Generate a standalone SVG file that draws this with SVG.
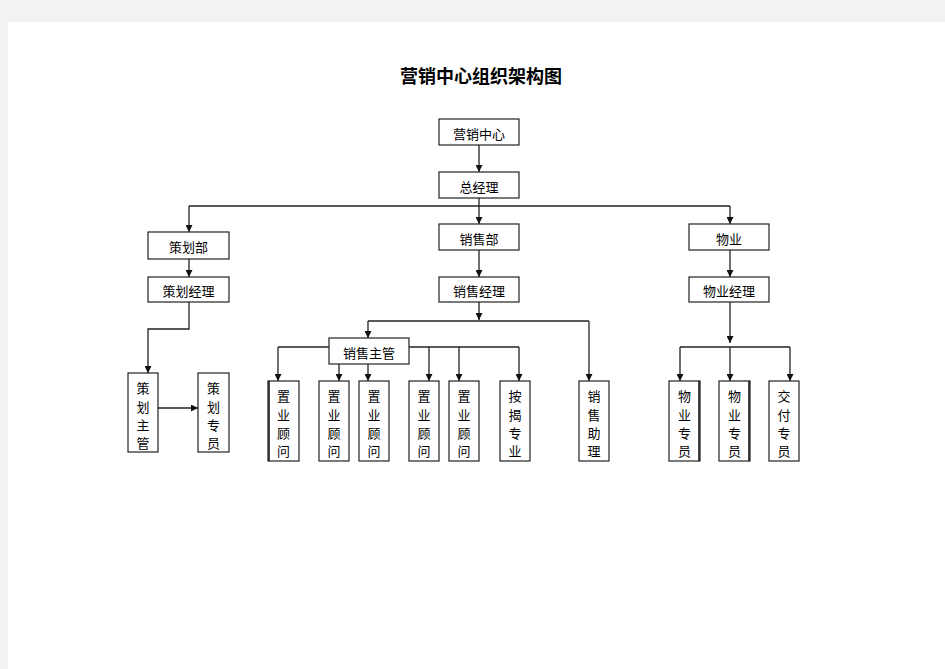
<svg xmlns="http://www.w3.org/2000/svg" width="945" height="669" viewBox="0 0 945 669">
<defs>
<style>
.bx{fill:#fff;stroke:#222;stroke-width:1.2}
.t{font-family:"Noto Sans CJK SC","Noto Sans",sans-serif;font-size:13px;fill:#000;text-anchor:middle}
.ln{fill:none;stroke:#222;stroke-width:1.3}
.ttl{font-family:"Noto Sans CJK SC",sans-serif;font-size:18px;font-weight:bold;fill:#000;text-anchor:middle}
</style>
<marker id="ar" viewBox="0 0 8 8" refX="8" refY="4" markerWidth="7" markerHeight="7" markerUnits="userSpaceOnUse" orient="auto">
<path d="M0,0 L8,4 L0,8 Z" fill="#111"/>
</marker>
</defs>
<rect x="0" y="0" width="945" height="669" fill="#f2f2f2"/>
<rect x="8" y="22" width="937" height="647" fill="#fff"/>
<text class="ttl" x="481" y="83">营销中心组织架构图</text>

<g id="connectors">
<path class="ln" d="M479,145 V172" marker-end="url(#ar)"/>
<path class="ln" d="M479,198 V224" marker-end="url(#ar)"/>
<path class="ln" d="M189,206 H730"/>
<path class="ln" d="M189,206 V232" marker-end="url(#ar)"/>
<path class="ln" d="M730,206 V224" marker-end="url(#ar)"/>
<path class="ln" d="M189,259 V277" marker-end="url(#ar)"/>
<path class="ln" d="M479,250 V277" marker-end="url(#ar)"/>
<path class="ln" d="M730,250 V277" marker-end="url(#ar)"/>
<path class="ln" d="M189,302 V329 H148 V373" marker-end="url(#ar)"/>
<path class="ln" d="M158,408 H198" marker-end="url(#ar)"/>
<path class="ln" d="M479,302 V320" marker-end="url(#ar)"/>
<path class="ln" d="M368,321 H589"/>
<path class="ln" d="M368,321 V338" marker-end="url(#ar)"/>
<path class="ln" d="M589,321 V381" marker-end="url(#ar)"/>
<path class="ln" d="M278,347 H519"/>
<path class="ln" d="M278,347 V381" marker-end="url(#ar)"/>
<path class="ln" d="M339,364 V381" marker-end="url(#ar)"/>
<path class="ln" d="M368,364 V381" marker-end="url(#ar)"/>
<path class="ln" d="M429,347 V381" marker-end="url(#ar)"/>
<path class="ln" d="M459,347 V381" marker-end="url(#ar)"/>
<path class="ln" d="M519,347 V381" marker-end="url(#ar)"/>
<path class="ln" d="M730,302 V343" marker-end="url(#ar)"/>
<path class="ln" d="M680,347 H790"/>
<path class="ln" d="M680,347 V381" marker-end="url(#ar)"/>
<path class="ln" d="M730,347 V381" marker-end="url(#ar)"/>
<path class="ln" d="M790,347 V381" marker-end="url(#ar)"/>
</g>

<g id="n-center"><rect class="bx" x="439" y="119" width="80" height="26"/><text class="t" x="479" y="139">营销中心</text></g>
<g id="n-gm"><rect class="bx" x="439" y="172" width="80" height="26"/><text class="t" x="479" y="192">总经理</text></g>
<g id="n-plan"><rect class="bx" x="148" y="232" width="81" height="27"/><text class="t" x="188.5" y="252">策划部</text></g>
<g id="n-sales"><rect class="bx" x="439" y="224" width="80" height="26"/><text class="t" x="479" y="244">销售部</text></g>
<g id="n-prop"><rect class="bx" x="689" y="224" width="80" height="26"/><text class="t" x="729" y="244">物业</text></g>
<g id="n-planmgr"><rect class="bx" x="148" y="277" width="81" height="25"/><text class="t" x="188.5" y="296">策划经理</text></g>
<g id="n-salesmgr"><rect class="bx" x="439" y="277" width="80" height="25"/><text class="t" x="479" y="296">销售经理</text></g>
<g id="n-propmgr"><rect class="bx" x="689" y="277" width="80" height="25"/><text class="t" x="729" y="296">物业经理</text></g>
<g id="n-salessup"><rect class="bx" x="329" y="338" width="80" height="26"/><text class="t" x="369" y="358">销售主管</text></g>

<g id="n-plansup"><rect class="bx" x="128" y="373" width="30" height="79"/>
<text class="t"><tspan x="143" y="393">策</tspan><tspan x="143" y="412">划</tspan><tspan x="143" y="430">主</tspan><tspan x="143" y="448">管</tspan></text></g>
<g id="n-planstaff"><rect class="bx" x="198" y="373" width="31" height="79"/>
<text class="t"><tspan x="213.5" y="393">策</tspan><tspan x="213.5" y="412">划</tspan><tspan x="213.5" y="430">专</tspan><tspan x="213.5" y="448">员</tspan></text></g>

<g id="n-adv1"><rect class="bx" x="268" y="381" width="31" height="80"/><line x1="269" y1="381" x2="269" y2="461" stroke="#111" stroke-width="1.5"/>
<text class="t"><tspan x="283.5" y="401">置</tspan><tspan x="283.5" y="420">业</tspan><tspan x="283.5" y="438">顾</tspan><tspan x="283.5" y="456">问</tspan></text></g>
<g id="n-adv2"><rect class="bx" x="319" y="381" width="30" height="80"/>
<text class="t"><tspan x="334" y="401">置</tspan><tspan x="334" y="420">业</tspan><tspan x="334" y="438">顾</tspan><tspan x="334" y="456">问</tspan></text></g>
<g id="n-adv3"><rect class="bx" x="359" y="381" width="30" height="80"/>
<text class="t"><tspan x="374" y="401">置</tspan><tspan x="374" y="420">业</tspan><tspan x="374" y="438">顾</tspan><tspan x="374" y="456">问</tspan></text></g>
<g id="n-adv4"><rect class="bx" x="409" y="381" width="30" height="80"/>
<text class="t"><tspan x="424" y="401">置</tspan><tspan x="424" y="420">业</tspan><tspan x="424" y="438">顾</tspan><tspan x="424" y="456">问</tspan></text></g>
<g id="n-adv5"><rect class="bx" x="449" y="381" width="30" height="80"/>
<text class="t"><tspan x="464" y="401">置</tspan><tspan x="464" y="420">业</tspan><tspan x="464" y="438">顾</tspan><tspan x="464" y="456">问</tspan></text></g>
<g id="n-mortgage"><rect class="bx" x="500" y="381" width="30" height="80"/>
<text class="t"><tspan x="515" y="401">按</tspan><tspan x="515" y="420">揭</tspan><tspan x="515" y="438">专</tspan><tspan x="515" y="456">业</tspan></text></g>
<g id="n-salesasst"><rect class="bx" x="579" y="381" width="30" height="80"/>
<text class="t"><tspan x="594" y="401">销</tspan><tspan x="594" y="420">售</tspan><tspan x="594" y="438">助</tspan><tspan x="594" y="456">理</tspan></text></g>
<g id="n-prop1"><rect class="bx" x="669" y="381" width="31" height="80"/><line x1="699" y1="381" x2="699" y2="461" stroke="#111" stroke-width="1.5"/>
<text class="t"><tspan x="684.5" y="401">物</tspan><tspan x="684.5" y="420">业</tspan><tspan x="684.5" y="438">专</tspan><tspan x="684.5" y="456">员</tspan></text></g>
<g id="n-prop2"><rect class="bx" x="719" y="381" width="31" height="80"/><line x1="749" y1="381" x2="749" y2="461" stroke="#111" stroke-width="1.5"/>
<text class="t"><tspan x="734.5" y="401">物</tspan><tspan x="734.5" y="420">业</tspan><tspan x="734.5" y="438">专</tspan><tspan x="734.5" y="456">员</tspan></text></g>
<g id="n-delivery"><rect class="bx" x="769" y="381" width="30" height="80"/>
<text class="t"><tspan x="784" y="401">交</tspan><tspan x="784" y="420">付</tspan><tspan x="784" y="438">专</tspan><tspan x="784" y="456">员</tspan></text></g>
</svg>
